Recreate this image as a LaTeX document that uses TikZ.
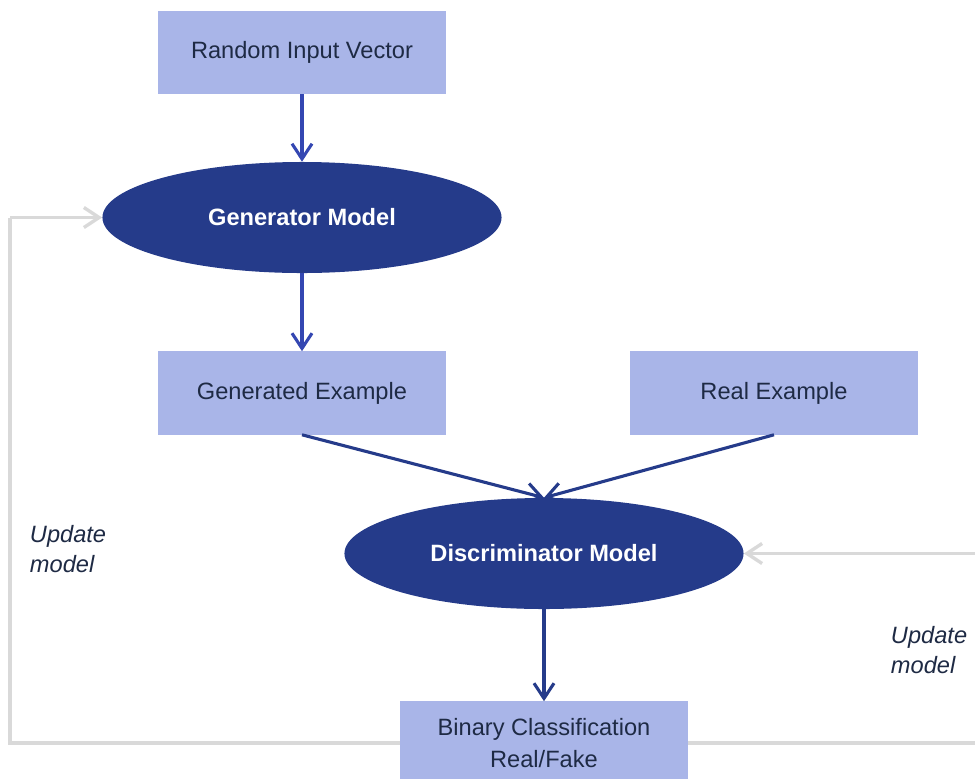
\documentclass[tikz,border=0pt]{standalone}
\usepackage{fontspec}
\setmainfont{Liberation Sans}
\usetikzlibrary{shapes.geometric,arrows.meta}
\definecolor{boxblue}{HTML}{A9B5E8}
\definecolor{navy}{HTML}{253B8A}
\definecolor{arrowblue}{HTML}{3447B2}
\definecolor{loopgray}{HTML}{D9D9D9}
\definecolor{inktext}{HTML}{1E2A44}
\begin{document}
\begin{tikzpicture}[x=0.025cm,y=-0.025cm,
    font=\fontsize{16.8}{22.7}\selectfont,
    stepbox/.style={rectangle,fill=boxblue,text=inktext,minimum width=7.2cm,
      minimum height=2.075cm,inner sep=0pt,align=center},
    model/.style={ellipse,fill=navy,text=white,font=\fontsize{16.8}{20}\selectfont\bfseries,
      minimum width=9.975cm,minimum height=2.775cm,inner sep=0pt},
    flow/.style={line width=2.2pt,-{Straight Barb[length=0.38cm,width=0.5cm,line width=2.2pt]}},
    loop/.style={line width=2.6pt,draw=loopgray},
    note/.style={text=inktext,font=\fontsize{16.8}{21.5}\selectfont\itshape,align=left,anchor=west}]
    \useasboundingbox (0,0) rectangle (975,778);
    \clip (0,0) rectangle (975,778);
    % generator side
    \node [stepbox] (noise) at (302,52.5) {Random Input Vector};
    \node [model] (gen) at (302,217.5) {Generator Model};
    \node [stepbox] (fake) at (302,393) {Generated Example};
    % real data
    \node [stepbox] (real) at (774,393) {Real Example};
    % discriminator
    \node [model] (disc) at (544,553.5) {Discriminator Model};
    \node [stepbox] (out) at (544,743) {Binary Classification\\Real/Fake};
    % feedback loops
    \coordinate (lcorner) at (10,217.5);
    \coordinate (rcorner) at (990,553.5);
    \draw [loop] (out.west) -| (lcorner);
    \draw [loop,-{Straight Barb[length=0.38cm,width=0.5cm,line width=2.4pt]}] (lcorner) -- (gen.west);
    \draw [loop] (out.east) -| (rcorner);
    \draw [loop,-{Straight Barb[length=0.38cm,width=0.5cm,line width=2.4pt]}] (rcorner) -- (disc.east);
    \node [note] (lnote) at (25,549) {Update\\model};
    \node [note] (rnote) at (886,650) {Update\\model};
    % data flow
    \draw [flow,arrowblue] (noise) -- (gen);
    \draw [flow,arrowblue] (gen) -- (fake);
    \draw [flow,navy] (fake.south) -- (disc.north);
    \draw [flow,navy] (real.south) -- (disc.north);
    \draw [flow,navy] (disc) -- (out);
\end{tikzpicture}
\end{document}
